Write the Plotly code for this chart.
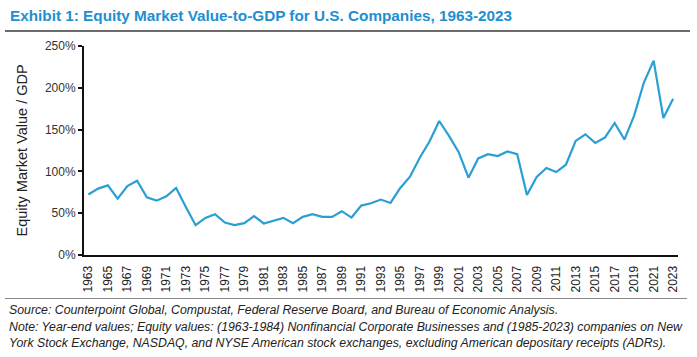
import plotly.graph_objects as go

years = list(range(1963, 2024))
ratio_pct = [
    72.3, 79.4, 83.3, 67.5, 82.5, 88.9, 69.0, 65.0, 70.2, 80.2,
    57.5, 35.7, 44.4, 48.8, 38.9, 35.7, 38.1, 46.4, 37.7, 40.9,
    44.4, 38.1, 45.6, 48.8, 45.6, 45.6, 52.4, 44.8, 59.1, 61.9,
    66.3, 62.3, 80.2, 93.7, 116.3, 135.7, 160.3, 142.5, 123.0, 92.5,
    115.5, 120.6, 118.3, 123.8, 120.6, 71.8, 93.3, 104.0, 99.2, 108.0,
    136.5, 144.4, 134.1, 140.5, 157.9, 138.1, 166.7, 206.3, 232.5, 163.9,
    186.9,
]
x_tick_years = years[::2]
y_tick_values = [0, 50, 100, 150, 200, 250]
y_tick_labels = ["0%", "50%", "100%", "150%", "200%", "250%"]

title_text = "Exhibit 1: Equity Market Value-to-GDP for U.S. Companies, 1963-2023"
y_title = "Equity Market Value / GDP"
source_lines = [
    "Source: Counterpoint Global, Compustat, Federal Reserve Board, and Bureau of Economic Analysis.",
    "Note: Year-end values; Equity values: (1963-1984) Nonfinancial Corporate Businesses and (1985-2023) companies on New",
    "York Stock Exchange, NASDAQ, and NYSE American stock exchanges, excluding American depositary receipts (ADRs).",
]

W, H = 697, 357
ML, MR, MT, MB = 84, 19, 46, 102
PW, PH = W - ML - MR, H - MT - MB


def px_x(p):
    return (p - ML) / PW


def px_y(p):
    return (H - MB - p) / PH


fig = go.Figure()
fig.add_trace(go.Scatter(
    x=years, y=ratio_pct, mode="lines",
    line=dict(color="#2a9fd4", width=2.2),
    hoverinfo="skip", showlegend=False,
))

fig.update_layout(
    width=W, height=H,
    margin=dict(l=ML, r=MR, t=MT, b=MB, pad=0),
    paper_bgcolor="white", plot_bgcolor="white",
    font=dict(family="Liberation Sans, Arial, sans-serif", color="#222222"),
    xaxis=dict(
        range=[1962.55, 2023.5], tickmode="array", tickvals=x_tick_years,
        ticktext=[str(y) for y in x_tick_years], tickangle=-90,
        tickfont=dict(size=12, color="#222222"),
        showgrid=False, zeroline=False, showline=True, linecolor="#111111",
        linewidth=2, ticks="", ticklabelstandoff=4,
    ),
    yaxis=dict(
        range=[0, 250], tickmode="array", tickvals=y_tick_values,
        ticktext=y_tick_labels, tickfont=dict(size=12, color="#333333"),
        showgrid=False, zeroline=False, showline=True, linecolor="#111111",
        linewidth=2, ticks="outside", ticklen=4, tickcolor="#111111", tickwidth=1.5,
    ),
    showlegend=False,
)

# rule under the title, drawn as a thin filled rectangle
fig.add_shape(type="rect", xref="paper", yref="paper", layer="above",
              x0=px_x(5), x1=px_x(690), y0=px_y(31.8), y1=px_y(30.2),
              fillcolor="#3a3a3a", line=dict(width=0))
# rule above the source notes
fig.add_shape(type="line", xref="paper", yref="paper",
              x0=px_x(5), x1=px_x(687), y0=px_y(298.5), y1=px_y(298.5),
              line=dict(color="#8a8a8a", width=1.2))

fig.add_annotation(
    text="<b>" + title_text + "</b>", xref="paper", yref="paper",
    x=px_x(8), y=px_y(15), xanchor="left", yanchor="middle", showarrow=False,
    font=dict(size=15.3, color="#1e8fd0", family="Liberation Sans, Arial"),
)
fig.add_annotation(
    text=y_title, xref="paper", yref="paper", x=px_x(21), y=0.5,
    xanchor="center", yanchor="middle", textangle=-90, showarrow=False,
    font=dict(size=14.5, color="#222222"),
)
for line, ypix in zip(source_lines, [310, 327, 343]):
    fig.add_annotation(
        text="<i>" + line + "</i>", xref="paper", yref="paper",
        x=px_x(7), y=px_y(ypix), xanchor="left", yanchor="middle",
        showarrow=False, font=dict(size=12.3, color="#222222"),
    )

fig.write_html(
    "out.html",
    config={"displayModeBar": False},
    post_script="document.body.style.margin='0';document.body.style.padding='0';",
)
